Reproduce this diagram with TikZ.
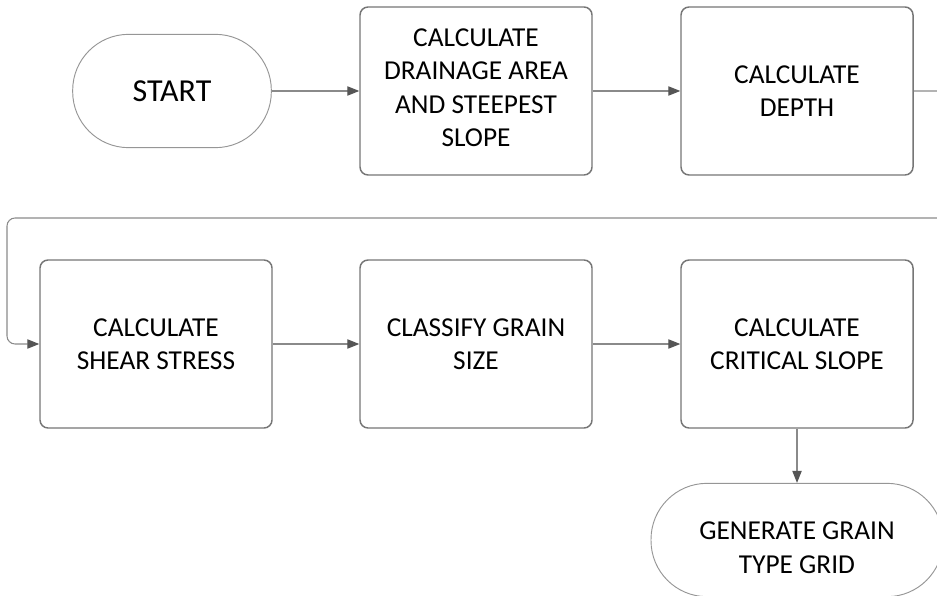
\documentclass[tikz,border=0pt]{standalone}
\usepackage{fontspec}
\setmainfont{Carlito}
\usepackage{xcolor}
\usepackage{tikz}
\usetikzlibrary{arrows.meta,positioning}
\definecolor{borde}{HTML}{767676}
\definecolor{linea}{HTML}{8A8A8A}
\definecolor{punta}{HTML}{555555}
\tikzset{
  paso/.style={draw=borde,line width=1.1pt,rounded corners=6pt,fill=white,
    minimum width=174pt,minimum height=126pt,align=center,
    font=\fontsize{20.5}{25}\selectfont,inner sep=2pt},
  termino/.style={draw=linea!90,line width=0.7pt,rounded corners=42pt,fill=white,
    minimum height=85pt,align=center,inner sep=2pt},
  flecha/.style={draw=linea,line width=0.8pt,-{Triangle[length=9pt,width=7pt,fill=punta,color=punta]}}
}
\begin{document}
\begin{tikzpicture}[x=0.75pt,y=-0.75pt]
\useasboundingbox (0,0) rectangle (937,595);
\clip (0,0) rectangle (937,595);
% primera fila
\node[termino,minimum width=149pt,font=\fontsize{24}{28}\selectfont] (ini) at (172,91) {START};
\node[paso] (dren) at (476,91) {CALCULATE\\DRAINAGE AREA\\AND STEEPEST\\SLOPE\rule[-5pt]{0pt}{1pt}};
\node[paso] (prof) at (797,91) {CALCULATE\\DEPTH};
% segunda fila
\node[paso] (cort) at (156,344) {CALCULATE\\SHEAR STRESS};
\node[paso] (gran) at (476,344) {CLASSIFY GRAIN\\SIZE};
\node[paso] (crit) at (797,344) {CALCULATE\\CRITICAL SLOPE};
% final
\node[termino,minimum width=219pt,font=\fontsize{20.5}{25}\selectfont] (fin) at (797,540) {\rule{0pt}{25pt}GENERATE GRAIN\\TYPE GRID};
\coordinate (vueltaR) at (960,218);
\coordinate (vueltaL) at (7,218);
\draw[flecha] (ini) -- (dren);
\draw[flecha] (dren) -- (prof);
\draw[flecha,rounded corners=6pt] (prof.east) -| (vueltaR) -- (vueltaL) |- (cort.west);
\draw[flecha] (cort) -- (gran);
\draw[flecha] (gran) -- (crit);
\draw[flecha] (crit) -- (fin);
\end{tikzpicture}
\end{document}
